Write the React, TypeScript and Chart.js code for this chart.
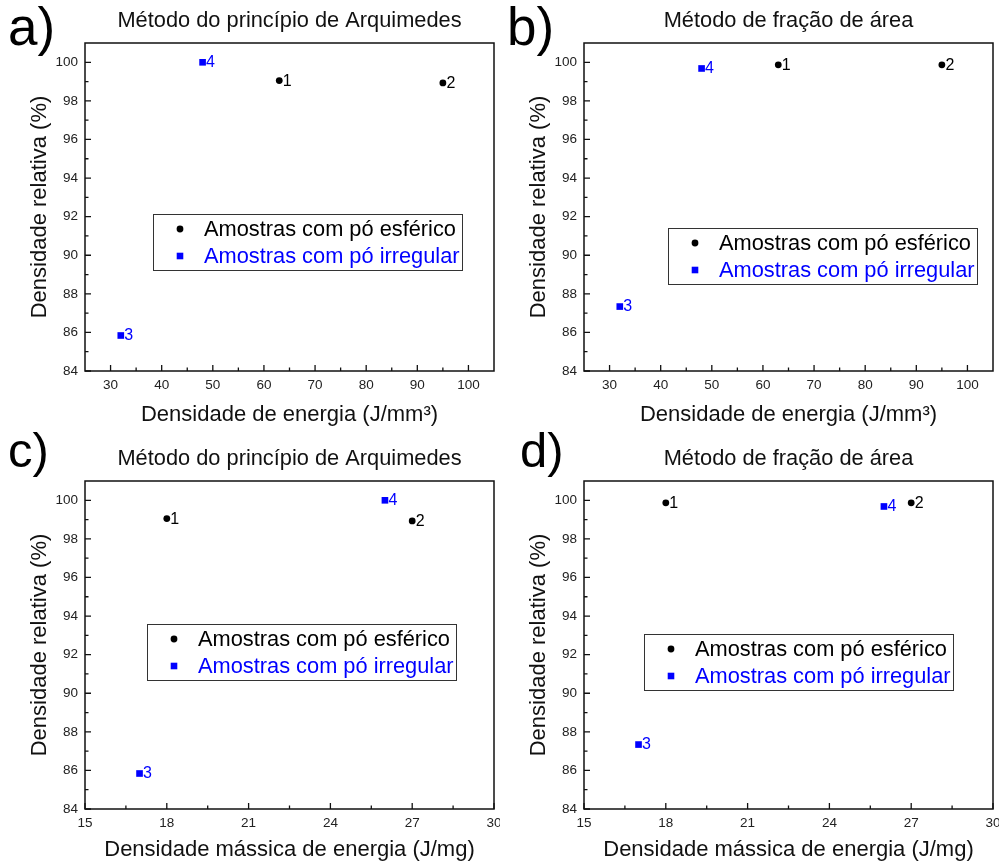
import React, { useEffect, useRef } from 'react';
import { Chart, registerables } from 'chart.js';

Chart.register(...registerables);

const FONT = '"Liberation Sans", Arial, Helvetica, sans-serif';

// ---- data ----
const sphereLabel = 'Amostras com pó esférico';
const irregularLabel = 'Amostras com pó irregular';
const sphereIds = ['1', '2'];
const irregularIds = ['4', '3'];

const volEnergySphere = [63, 95];
const volEnergyIrregular = [48, 32];
const massEnergySphere = [18, 27];
const massEnergyIrregular = [26, 17];

const archimedesSphere = [99.05, 98.93];
const archimedesIrregular = [100, 85.84];
const areaSphere = [99.87, 99.87];
const areaIrregular = [99.68, 87.34];

const yTicks = [84, 86, 88, 90, 92, 94, 96, 98, 100];
const xTicksVol = [30, 40, 50, 60, 70, 80, 90, 100];
const xTicksMass = [15, 18, 21, 24, 27, 30];

const titleArchimedes = 'Método do princípio de Arquimedes';
const titleArea = 'Método de fração de área';
const xTitleVol = 'Densidade de energia (J/mm³)';
const xTitleMass = 'Densidade mássica de energia (J/mg)';
const yTitle = 'Densidade relativa (%)';

type Panel = {
  letter: string;
  title: string;
  xTitle: string;
  xSphere: number[];
  ySphere: number[];
  xIrr: number[];
  yIrr: number[];
  xMin: number;
  xMax: number;
  xTicks: number[];
  left: number;
  top: number;
  height: number;
  padTop: number;
  letterSize: number;
  letterPos: [number, number];
  legendPos: [number, number];
};

const PLOT_H = 328;

const panels: Panel[] = [
  {
    letter: 'a)', title: titleArchimedes, xTitle: xTitleVol,
    xSphere: volEnergySphere, ySphere: archimedesSphere,
    xIrr: volEnergyIrregular, yIrr: archimedesIrregular,
    xMin: 25, xMax: 105, xTicks: xTicksVol,
    left: 0, top: 0, height: 430, padTop: 43,
    letterSize: 53, letterPos: [8, 45], legendPos: [153, 214],
  },
  {
    letter: 'b)', title: titleArea, xTitle: xTitleVol,
    xSphere: volEnergySphere, ySphere: areaSphere,
    xIrr: volEnergyIrregular, yIrr: areaIrregular,
    xMin: 25, xMax: 105, xTicks: xTicksVol,
    left: 499, top: 0, height: 430, padTop: 43,
    letterSize: 53, letterPos: [8, 45], legendPos: [169, 228],
  },
  {
    letter: 'c)', title: titleArchimedes, xTitle: xTitleMass,
    xSphere: massEnergySphere, ySphere: archimedesSphere,
    xIrr: massEnergyIrregular, yIrr: archimedesIrregular,
    xMin: 15, xMax: 30, xTicks: xTicksMass,
    left: 0, top: 428, height: 435, padTop: 53,
    letterSize: 49, letterPos: [8, 39], legendPos: [147, 196],
  },
  {
    letter: 'd)', title: titleArea, xTitle: xTitleMass,
    xSphere: massEnergySphere, ySphere: areaSphere,
    xIrr: massEnergyIrregular, yIrr: areaIrregular,
    xMin: 15, xMax: 30, xTicks: xTicksMass,
    left: 499, top: 428, height: 435, padTop: 53,
    letterSize: 49, letterPos: [21, 39], legendPos: [145, 206],
  },
];

const W = 500;

const decorPlugin = {
  id: 'decor',
  afterDatasetsDraw(chart: any, _args: any, opts: any) {
    const { ctx, chartArea: a } = chart;
    const xs = chart.scales.x;
    const ys = chart.scales.y;
    ctx.save();

    // frame
    ctx.strokeStyle = '#111';
    ctx.lineWidth = 1.5;
    ctx.strokeRect(a.left, a.top, a.right - a.left, a.bottom - a.top);

    // inward ticks
    ctx.lineWidth = 1.3;
    const xv = xs.ticks.map((t: any) => t.value);
    const yv = ys.ticks.map((t: any) => t.value);
    ctx.beginPath();
    xv.forEach((v: number, i: number) => {
      const px = xs.getPixelForValue(v);
      ctx.moveTo(px, a.bottom);
      ctx.lineTo(px, a.bottom - 6);
      if (i < xv.length - 1) {
        const m = xs.getPixelForValue((v + xv[i + 1]) / 2);
        ctx.moveTo(m, a.bottom);
        ctx.lineTo(m, a.bottom - 3.5);
      }
    });
    yv.forEach((v: number, i: number) => {
      const py = ys.getPixelForValue(v);
      ctx.moveTo(a.left, py);
      ctx.lineTo(a.left + 6, py);
      if (i < yv.length - 1) {
        const m = ys.getPixelForValue((v + yv[i + 1]) / 2);
        ctx.moveTo(a.left, m);
        ctx.lineTo(a.left + 3.5, m);
      }
    });
    ctx.stroke();

    // point labels
    ctx.font = `16px ${FONT}`;
    ctx.textAlign = 'left';
    ctx.textBaseline = 'middle';
    chart.data.datasets.forEach((ds: any, i: number) => {
      const meta = chart.getDatasetMeta(i);
      ctx.fillStyle = ds.backgroundColor;
      meta.data.forEach((el: any, j: number) => {
        ctx.fillText(ds.ids[j], el.x + 3.5, el.y + 0.5);
      });
    });

    // legend
    const [lx, ly] = opts.legendPos;
    ctx.strokeStyle = '#333';
    ctx.lineWidth = 1;
    ctx.strokeRect(lx + 0.5, ly + 0.5, 309, 56);
    ctx.font = `21.8px ${FONT}`;
    chart.data.datasets.forEach((ds: any, i: number) => {
      const cy = ly + 15 + i * 27;
      const cx = lx + 27;
      ctx.fillStyle = ds.backgroundColor;
      ctx.beginPath();
      if (ds.pointStyle === 'rect') {
        ctx.rect(cx - 3.3, cy - 3.3, 6.6, 6.6);
      } else {
        ctx.arc(cx, cy, 3.4, 0, Math.PI * 2);
      }
      ctx.fill();
      ctx.fillText(ds.label, lx + 51, cy + 1);
    });

    // title
    ctx.fillStyle = '#111';
    ctx.font = `21.8px ${FONT}`;
    ctx.textAlign = 'center';
    ctx.textBaseline = 'alphabetic';
    ctx.fillText(opts.title, (a.left + a.right) / 2, a.top - 16);

    // panel letter
    ctx.fillStyle = '#000';
    ctx.font = `${opts.letterSize}px ${FONT}`;
    ctx.textAlign = 'left';
    ctx.fillText(opts.letter, opts.letterPos[0], opts.letterPos[1]);

    ctx.restore();
  },
};

function PanelChart({ p }: { p: Panel }) {
  const ref = useRef<HTMLCanvasElement | null>(null);
  useEffect(() => {
    if (!ref.current) return;
    const chart = new Chart(ref.current, {
      type: 'scatter',
      data: {
        datasets: [
          {
            label: sphereLabel,
            data: p.xSphere.map((x, i) => ({ x, y: p.ySphere[i] })),
            ids: sphereIds,
            backgroundColor: '#000000',
            borderColor: '#000000',
            borderWidth: 0,
            pointStyle: 'circle',
            pointRadius: 3.4,
          } as any,
          {
            label: irregularLabel,
            data: p.xIrr.map((x, i) => ({ x, y: p.yIrr[i] })),
            ids: irregularIds,
            backgroundColor: '#0000ff',
            borderColor: '#0000ff',
            borderWidth: 0,
            pointStyle: 'rect',
            pointRadius: 4.7,
          } as any,
        ],
      },
      options: {
        animation: false,
        responsive: false,
        events: [],
        layout: { padding: { top: p.padTop, right: 6, left: 0, bottom: 0 } },
        plugins: {
          legend: { display: false },
          tooltip: { enabled: false },
          title: { display: false },
          decor: {
            title: p.title,
            letter: p.letter,
            letterSize: p.letterSize,
            letterPos: p.letterPos,
            legendPos: p.legendPos,
          },
        } as any,
        scales: {
          x: {
            type: 'linear',
            min: p.xMin,
            max: p.xMax,
            grid: { display: false, drawTicks: false },
            border: { display: false },
            afterBuildTicks: (s: any) => {
              s.ticks = p.xTicks.map((v) => ({ value: v }));
            },
            afterFit: (s: any) => {
              s.height = p.height - p.padTop - PLOT_H;
              s.paddingLeft = 0;
              s.paddingRight = 0;
            },
            ticks: {
              color: '#222',
              font: { family: FONT, size: 13.5 },
              padding: 6,
              maxRotation: 0,
              autoSkip: false,
            },
            title: {
              display: true,
              text: p.xTitle,
              color: '#111',
              font: { family: FONT, size: 22 },
              padding: { top: 0, bottom: p.height === 430 ? 2 : 0 },
            },
          },
          y: {
            type: 'linear',
            min: 84,
            max: 101,
            grid: { display: false, drawTicks: false },
            border: { display: false },
            afterBuildTicks: (s: any) => {
              s.ticks = yTicks.map((v) => ({ value: v }));
            },
            afterFit: (s: any) => {
              s.width = 85;
              s.paddingTop = 0;
              s.paddingBottom = 0;
            },
            ticks: {
              color: '#222',
              font: { family: FONT, size: 13.5 },
              padding: 7,
              autoSkip: false,
            },
            title: {
              display: true,
              text: yTitle,
              color: '#111',
              font: { family: FONT, size: 22 },
              padding: { top: 27, bottom: 0 },
            },
          },
        },
      },
      plugins: [decorPlugin as any],
    });
    return () => chart.destroy();
  }, [p]);

  return (
    <div style={{ position: 'absolute', left: p.left, top: p.top, width: W, height: p.height }}>
      <canvas
        ref={ref}
        width={W}
        height={p.height}
        style={{ width: W, height: p.height, display: 'block' }}
      />
    </div>
  );
}

export default function App() {
  return (
    <div
      style={{
        position: 'absolute',
        left: 0,
        top: 0,
        width: 1003,
        height: 863,
        background: '#ffffff',
        overflow: 'hidden',
      }}
    >
      {panels.map((p) => (
        <PanelChart key={p.letter} p={p} />
      ))}
    </div>
  );
}
